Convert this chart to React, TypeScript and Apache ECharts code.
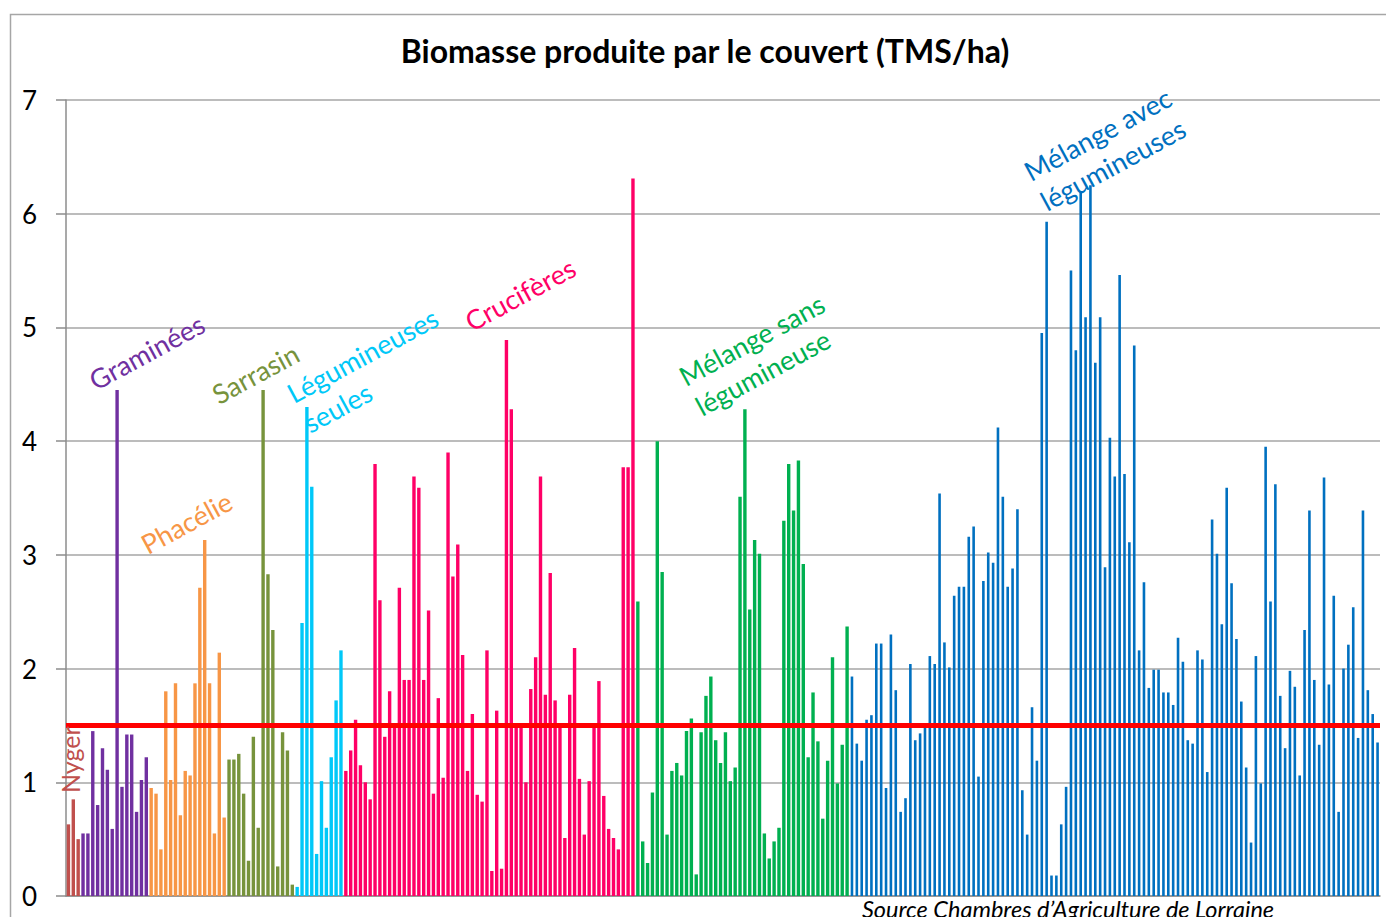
import React, { useEffect, useRef } from 'react';
import * as echarts from 'echarts';

// ---- Data (TMS/ha) ----
const nyger = [0.63, 0.85, 0.5];
const graminees = [0.55, 0.55, 1.45, 0.8, 1.3, 1.11, 0.59, 4.45, 0.96, 1.42, 1.42, 0.74, 1.02, 1.22];
const phacelie = [0.95, 0.9, 0.41, 1.8, 1.02, 1.87, 0.71, 1.1, 1.06, 1.87, 2.71, 3.13, 1.87, 0.55, 2.14, 0.69];
const sarrasin = [1.2, 1.2, 1.25, 0.9, 0.31, 1.4, 0.6, 4.45, 2.83, 2.34, 0.26, 1.44, 1.28, 0.1];
const legumineusesSeules = [0.08, 2.4, 4.3, 3.6, 0.37, 1.01, 0.6, 1.22, 1.72, 2.16];
const cruciferes = [
  1.1, 1.28, 1.55, 1.15, 1.0, 0.85, 3.8, 2.6, 1.4, 1.8, 1.52,
  2.71, 1.9, 1.9, 3.69, 3.59, 1.9, 2.51, 0.9, 1.74, 1.04, 3.9, 2.81, 3.09, 2.12, 1.1, 1.6, 0.89, 0.83, 2.16, 0.22,
  1.63, 0.24, 4.89, 4.28, 1.51, 1.51, 1.0, 1.82, 2.1, 3.69, 1.77, 2.84, 1.72, 1.51, 0.51, 1.77, 2.18,
  1.03, 0.54, 1.01, 1.51, 1.89, 0.88, 0.59, 0.51, 0.41, 3.77, 3.77, 6.31,
];
const melangeSans = [
  2.59, 0.48, 0.29, 0.91, 4.0, 2.85, 0.54, 1.1, 1.17, 1.06, 1.45, 1.56, 0.19, 1.44, 1.76, 1.93, 1.37, 1.17, 1.44, 1.01, 1.13, 3.51, 4.28,
  2.52, 3.13, 3.01, 0.55, 0.33, 0.48, 0.6, 3.3, 3.8, 3.39, 3.83, 2.92, 1.22, 1.79, 1.36, 0.68, 1.19, 2.1, 0.99, 1.33, 2.37,
];
const melangeAvec = [
  1.93, 1.34, 1.19, 1.55, 1.59, 2.22, 2.22, 0.95, 2.3, 1.81, 0.74, 0.86, 2.04, 1.37,
  1.43, 1.48, 2.11, 2.04, 3.54, 2.23, 2.01, 2.64, 2.72, 2.72, 3.16, 3.25, 1.05, 2.77, 3.02, 2.93, 4.12, 3.51, 2.72, 2.88, 3.4, 0.93, 0.54, 1.66, 1.19, 4.95, 5.93, 0.18, 0.18,
  0.63, 0.96, 5.5, 4.8, 6.19, 5.09, 6.25, 4.69, 5.09, 2.89, 4.03, 3.69, 5.46, 3.71, 3.11, 4.84, 2.16, 2.76, 1.83, 1.99, 1.99, 1.79, 1.79, 1.68, 2.27, 2.06, 1.37, 1.34, 2.16, 2.08, 1.09, 3.31, 3.01, 2.39, 3.59,
  2.75, 2.26, 1.71, 1.13, 0.47, 2.11, 0.99, 3.95, 2.59, 3.62, 1.76, 1.3, 1.98, 1.84, 1.06, 2.34, 3.39, 1.9, 1.33, 3.68, 1.86, 2.64, 0.74, 2.0, 2.21, 2.54, 1.39, 3.39, 1.81, 1.6, 1.35,
];
const seuil = 1.5;
const yTicks = [0, 1, 2, 3, 4, 5, 6, 7];

const titleText = 'Biomasse produite par le couvert (TMS/ha)';
const sourceText = 'Source Chambres d\u2019Agriculture de Lorraine';

const groups = [
  { name: 'Nyger', values: nyger, color: '#C0504D' },
  { name: 'Graminées', values: graminees, color: '#7030A0' },
  { name: 'Phacélie', values: phacelie, color: '#F79646' },
  { name: 'Sarrasin', values: sarrasin, color: '#77933C' },
  { name: 'Légumineuses seules', values: legumineusesSeules, color: '#00C8F8' },
  { name: 'Crucifères', values: cruciferes, color: '#FF0066' },
  { name: 'Mélange sans légumineuse', values: melangeSans, color: '#00B050' },
  { name: 'Mélange avec légumineuses', values: melangeAvec, color: '#0070C0' },
];

const FONT = 'Lato, "Open Sans", sans-serif';
const ROT = (28.5 * Math.PI) / 180;

export default function App() {
  const ref = useRef<HTMLDivElement>(null);

  useEffect(() => {
    if (!ref.current) return;
    const chart = echarts.init(ref.current, null, { renderer: 'svg' });

    const total = groups.reduce((s, g) => s + g.values.length, 0);
    const categories = Array.from({ length: total }, (_, i) => String(i + 1));

    let offset = 0;
    const series: any[] = groups.map((g, gi) => {
      const data: any[] = new Array(total).fill('-');
      g.values.forEach((v, i) => {
        data[offset + i] = v;
      });
      offset += g.values.length;
      const isBlue = gi === groups.length - 1;
      const s: any = {
        name: g.name,
        type: 'bar',
        data,
        xAxisIndex: isBlue ? 1 : 0,
        stack: isBlue ? undefined : 'couverts',
        barWidth: isBlue ? 2.6 : 3.4,
        itemStyle: { color: g.color },
        silent: true,
      };
      if (isBlue) {
        s.markLine = {
          symbol: 'none',
          silent: true,
          label: { show: false },
          lineStyle: { color: '#FF0000', width: 5, type: 'solid' },
          data: [{ yAxis: seuil }],
          z: 10,
        };
      }
      return s;
    });

    const labels = [
      { text: 'Graminées', x: 83, y: 367, color: '#7030A0' },
      { text: 'Phacélie', x: 135, y: 531, color: '#F79646' },
      { text: 'Sarrasin', x: 206, y: 381, color: '#77933C' },
      { text: 'Légumineuses\nseules', x: 281, y: 380, color: '#00C8F8' },
      { text: 'Crucifères', x: 459, y: 308, color: '#FF0066' },
      { text: 'Mélange sans\nlégumineuse', x: 673, y: 363, color: '#00B050' },
      { text: 'Mélange avec\nlégumineuses', x: 1018, y: 158, color: '#0070C0' },
    ];

    const graphic: any[] = [
      {
        type: 'rect',
        shape: { x: 10.5, y: 14.5, width: 1500, height: 1000 },
        style: { fill: 'none', stroke: '#A6A6A6', lineWidth: 1.5 },
        silent: true,
        z: 0,
      },
      {
        type: 'text',
        x: 705,
        y: 50,
        style: {
          text: titleText,
          fill: '#000',
          fontSize: 32,
          fontWeight: 'bold',
          fontFamily: FONT,
          align: 'center',
          verticalAlign: 'middle',
        },
        z: 100,
      },
      ...labels.map((l) => ({
        type: 'text',
        x: l.x,
        y: l.y,
        rotation: ROT,
        style: {
          text: l.text,
          fill: l.color,
          fontSize: 27,
          fontFamily: FONT,
          lineHeight: 34,
          align: 'left',
          verticalAlign: 'top',
        },
        z: 100,
      })),
      {
        type: 'text',
        x: 57,
        y: 793,
        rotation: Math.PI / 2,
        style: {
          text: 'Nyger',
          fill: '#C0504D',
          fontSize: 25,
          fontFamily: FONT,
          align: 'left',
          verticalAlign: 'top',
        },
        z: 100,
      },
      {
        type: 'text',
        x: 862,
        y: 897,
        style: {
          text: sourceText,
          fill: '#000',
          fontSize: 23.5,
          fontStyle: 'italic',
          fontFamily: FONT,
          align: 'left',
          verticalAlign: 'top',
        },
        z: 100,
      },
    ];

    const option: any = {
      animation: false,
      backgroundColor: '#ffffff',
      grid: { left: 66, right: 6, top: 100, bottom: 21, containLabel: false },
      xAxis: [
        {
          type: 'category',
          data: categories,
          axisLabel: { show: false },
          axisTick: { show: false },
          axisLine: { show: true, lineStyle: { color: '#8C8C8C', width: 1.5 } },
          splitLine: { show: false },
        },
        {
          type: 'category',
          data: categories,
          show: false,
          position: 'bottom',
        },
      ],
      yAxis: {
        type: 'value',
        min: yTicks[0],
        max: yTicks[yTicks.length - 1],
        interval: 1,
        axisLine: { show: true, lineStyle: { color: '#8C8C8C', width: 1.5 } },
        axisTick: { show: true, length: 10, lineStyle: { color: '#8C8C8C', width: 1.5 } },
        axisLabel: { color: '#000', fontSize: 26, fontFamily: FONT, margin: 29 },
        splitLine: { show: true, lineStyle: { color: '#A6A6A6', width: 1.5 } },
      },
      series,
      graphic,
    };

    chart.setOption(option);
    return () => chart.dispose();
  }, []);

  return (
    <div
      ref={ref}
      style={{ position: 'fixed', left: 0, top: 0, width: 1386, height: 917, background: '#fff' }}
    />
  );
}
